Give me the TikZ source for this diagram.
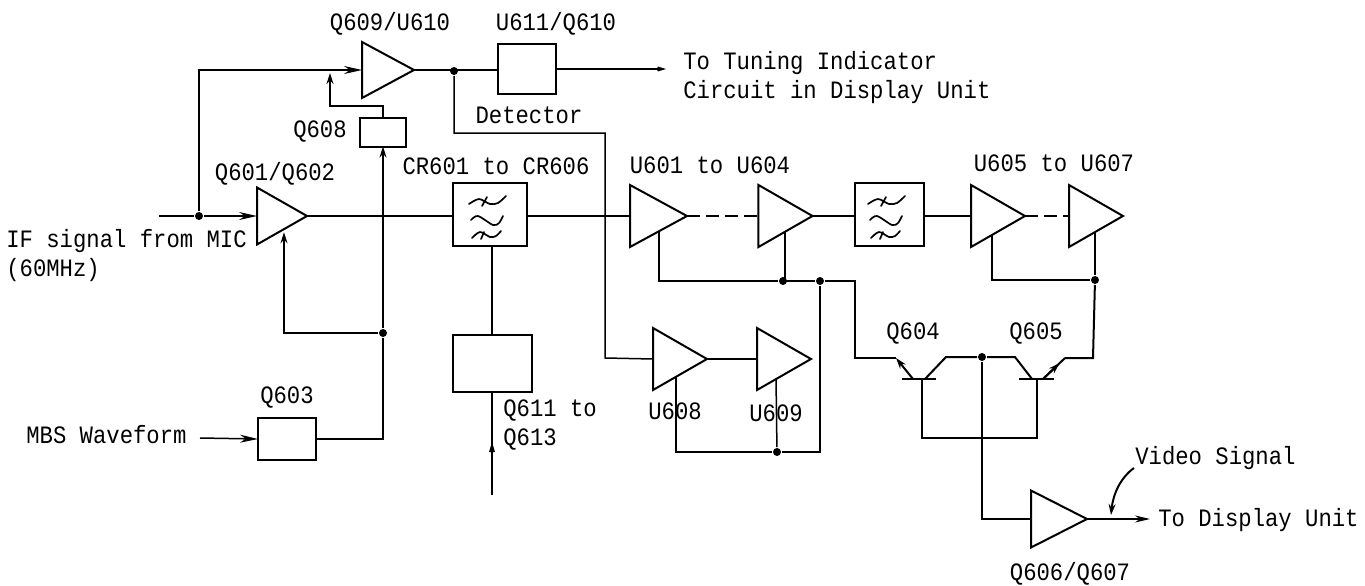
\documentclass[tikz,border=0pt]{standalone}
\usepackage{fontspec}
\usepackage{tikz}
\usetikzlibrary{shapes, arrows, arrows.meta, positioning, calc}
\newfontfamily\labelfont[FakeStretch=0.89]{Liberation Mono}

% three wave marks in a filter box
\newcommand{\filtermark}[1]{
    \begin{scope}[shift={(#1.center)}, line width=1.7pt, line cap=round]
        \draw plot [smooth] coordinates {(-21,-10) (-11,-15) (0,-10) (8,-11) (16,-18)};
        \draw (-3,-17) -- (-8,-8);
        \draw plot [smooth] coordinates {(-19,6) (-12,2) (3,11) (9,9) (13,2)};
        \draw plot [smooth] coordinates {(-18,24) (-10,18) (0,23) (6,22) (11,17)};
        \draw (-6,18) -- (-9,25);
    \end{scope}
}

\begin{document}
\begin{tikzpicture}[x=1pt, y=-1pt, node distance=128pt, >={Stealth[length=14pt,width=8pt]}, line width=2pt, font=\labelfont\fontsize{25}{29}\selectfont]
        \tikzstyle{block} = [draw, rectangle, inner sep=0pt, outer sep=0pt, minimum width=58pt, minimum height=50pt]
        \tikzstyle{filterbox} = [block, minimum width=74pt, minimum height=63pt]
        \tikzstyle{amp} = [draw, isosceles triangle, isosceles triangle stretches, inner sep=0pt, outer sep=0pt, minimum width=62pt, minimum height=54pt, anchor=lower side]
        \tikzstyle{dot} = [circle, fill=black, inner sep=0pt, minimum size=8pt]
        \tikzstyle{input} = [coordinate]
        \tikzstyle{thinline} = [line width=1.5pt]
        \tikzstyle{smalltip} = [>={Stealth[length=11pt,width=7pt]}]
        \tikzstyle{longtip} = [>={Stealth[length=18pt,width=8pt]}]
        \tikzstyle{opentip} = [>={Stealth[length=20pt,width=12pt,inset=13pt]}]

        \useasboundingbox (0,0) rectangle (1365,586);

        % --- upper row ---
        \node [amp, minimum width=56pt, minimum height=52pt] (q609) at (362,70) {};
        \node [block] (det) at (527,69) {};
        \node [block, minimum width=46pt, minimum height=29pt] (q608) at (383,132) {};
        \node [dot] (jdet) at (454,71) {};

        % --- main row ---
        \node [amp, minimum width=57pt, minimum height=50pt] (q601) at (257,216) {};
        \node [filterbox] (fil1) at (490,214) {};
        \node [amp, minimum height=57pt] (u601) at (630,216) {};
        \node [amp, right of=u601] (u604) {};
        \node [filterbox, minimum width=69pt, right of=fil1, node distance=399pt] (fil2) {};
        \node [amp] (u605) at (971,216) {};
        \node [amp, right of=u605, node distance=98pt] (u607) {};
        \node [dot] (jif) at (199,216) {};
        \node [input] (ifin) at (159,216) {};

        % --- left lower part ---
        \node [block, minimum height=42pt] (q603) at (287,439) {};
        \node [input] (mbs) at (200,438) {};
        \node [dot] (jfb) at (383,333) {};
        \node [block, minimum width=79pt, minimum height=57pt] (q611) at (492,363) {};
        \node [input] (qin) at (492,495) {};
        \node [input] (qtip) at (492,442) {};

        % --- U608 and U609 ---
        \node [amp] (u608) at (653,359) {};
        \node [amp, right of=u608, node distance=104pt] (u609) {};
        \node [dot] (jbus1) at (783,281) {};
        \node [dot] (jbus2) at (820,281) {};
        \node [dot] (jbus3) at (1095,280) {};
        \node [dot] (jlow) at (777,452) {};

        % --- Q604 and Q605 ---
        \node [input] (q604b) at (922,379) {};
        \node [input] (q605b) at (1037,379) {};
        \node [input] (q604e) at (896,358) {};
        \node [input] (q605e) at (1065,358) {};
        \node [dot] (jcol) at (982,357) {};
        \node [input] (q604c) at (946,357) {};
        \node [input] (q605c) at (1015,357) {};
        \node [input] (jbase) at (982,438) {};

        % --- output ---
        \node [amp, minimum width=57pt, minimum height=56pt] (q606) at (1031,519) {};
        \node [input] (vout) at (1150,519) {};
        \node [input] (tunout) at (666,69) {};
        \node [input] (agc) at (330,106) {};
        \node [input] (agctip) at (330,73) {};
        \node [input] (vtail) at (1134,468) {};
        \node [input] (vhead) at (1111,515) {};

        % --- labels ---
        \node (l1) at (390,24) {Q609/U610};
        \node (l2) at (556,24) {U611/Q610};
        \node [anchor=west, align=left] (l3) at (679,78) {To Tuning Indicator\\Circuit in Display Unit};
        \node (l4) at (529,115) {Detector};
        \node (l5) at (320,131) {Q608};
        \node (l6) at (275,174) {Q601/Q602};
        \node (l7) at (496,166) {CR601 to CR606};
        \node (l8) at (710,165) {U601 to U604};
        \node (l9) at (1054,163) {U605 to U607};
        \node [anchor=west, align=left] (l10) at (2,256) {IF signal from MIC\\(60MHz)};
        \node (l11) at (287,397) {Q603};
        \node [anchor=west] (l12) at (22,435) {MBS Waveform};
        \node [anchor=west, align=left] (l13) at (499,425) {Q611 to\\Q613};
        \node (l14) at (675,411) {U608};
        \node (l15) at (776,413) {U609};
        \node (l16) at (913,333) {Q604};
        \node (l17) at (1036,333) {Q605};
        \node [anchor=west] (l18) at (1131,458) {Video Signal};
        \node [anchor=west] (l19) at (1154,520) {To Display Unit};
        \node (l20) at (1070,574) {Q606/Q607};

        % --- filter marks ---
        \filtermark{fil1}
        \filtermark{fil2}

        % --- connections: upper row ---
        \draw [->, longtip] (jif) |- (q609.lower side);
        \draw (q609.apex) -- (det.west |- q609.apex);
        \draw [->, opentip] (det.east) -- (tunout);
        \draw [thinline] (jdet) |- (605,133) -- (605,358) -- (u608.lower side);
        \draw [->, smalltip, thinline] (q608.north) |- (agc) -- (agctip);

        % --- connections: main row ---
        \draw [line width=2.5pt] (ifin) -- (jif);
        \draw [->, longtip] (jif) -- (q601.lower side);
        \draw (q601.apex) -- (fil1.west |- q601.apex);
        \draw (fil1.east |- u601.lower side) -- (u601.lower side);
        \draw [dash pattern=on 13pt off 6pt] (u601.apex) -- (u604.lower side);
        \draw (u604.apex) -- (fil2.west |- u604.apex);
        \draw (fil2.east |- u605.lower side) -- (u605.lower side);
        \draw [dash pattern=on 13pt off 6pt] (u605.apex) -- (u607.lower side);

        % --- connections: gain control ---
        \draw [thinline] (q603.east) -| (jfb);
        \draw [->, smalltip, thinline] (jfb) -- (q608.south);
        \draw [->, smalltip, thinline] (jfb) -| ([shift={(2,2)}]q601.right side);
        \draw [->, longtip, thinline] (mbs) -- (q603.west);
        \draw [thinline] (q611.north |- fil1.south) -- (q611.north);
        \draw [thinline] (qin) -- (q611.south);
        \draw [->, opentip, thinline] (qin) -- (qtip);

        % --- connections: control bus ---
        \draw (u601.right side) |- (jbus1);
        \draw (u604.right side) |- (jbus1);
        \draw (jbus1) -- (jbus2);
        \draw (jbus2) -| (855,358) -- (q604e);
        \draw ([shift={(-6,3)}]u605.right side) |- (jbus3);
        \draw (jbus3 |- u607.right side) -- (jbus3);
        \draw (jbus3) -- (1093,358) -- (q605e);
        \draw (u608.apex) -- (u609.lower side);
        \draw [thinline] ([shift={(-4,2)}]u608.right side) |- (jlow);
        \draw [thinline] ([shift={(-8,4)}]u609.right side) -- (jlow);
        \draw [thinline] (jlow) -| (jbus2);

        % --- connections: Q604 and Q605 ---
        \draw ([xshift=-20pt]q604b) -- ([xshift=14pt]q604b);
        \draw ([xshift=-18pt]q605b) -- ([xshift=17pt]q605b);
        \draw [->, smalltip] ([xshift=-9pt]q604b) -- (q604e);
        \draw [->, smalltip] ([xshift=6pt]q605b) -- ($([xshift=6pt]q605b)!0.75!(q605e)$);
        \draw ([xshift=6pt]q605b) -- (q605e);
        \draw ([xshift=3pt]q604b) -- (q604c) -- (jcol) -- (q605c) -- ([xshift=-5pt]q605b);
        \draw [thinline] (q604b) |- (jbase) -| (q605b);
        \draw [thinline] (jcol) -- (jbase) |- (q606.lower side);
        \draw [->, >={Stealth[length=15pt,width=7pt]}, thinline] (q606.apex) -- (vout);
        \draw [->, smalltip] (vtail) .. controls (1120,478) and (1113,495) .. (vhead);

\end{tikzpicture}
\end{document}
